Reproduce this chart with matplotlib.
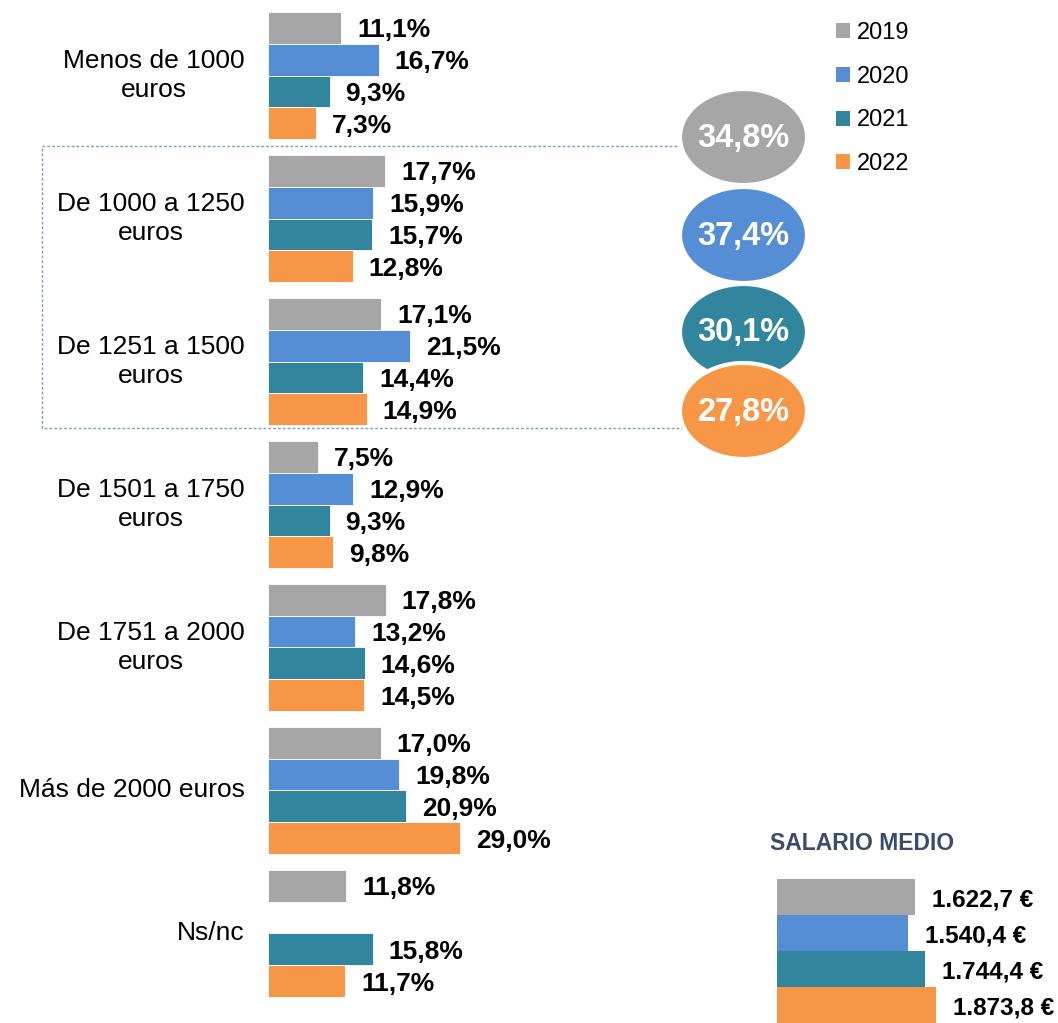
import matplotlib.pyplot as plt
from matplotlib.patches import Patch, Ellipse, Rectangle

plt.rcParams['font.family'] = ['Liberation Sans', 'DejaVu Sans']

# Data
categories = ["Menos de 1000\neuros", "De 1000 a 1250\neuros", "De 1251 a 1500\neuros",
              "De 1501 a 1750\neuros", "De 1751 a 2000\neuros", "Más de 2000 euros", "Ns/nc"]
years = ["2019", "2020", "2021", "2022"]
v2019 = [11.1, 17.7, 17.1, 7.5, 17.8, 17.0, 11.8]
v2020 = [16.7, 15.9, 21.5, 12.9, 13.2, 19.8, None]
v2021 = [9.3, 15.7, 14.4, 9.3, 14.6, 20.9, 15.8]
v2022 = [7.3, 12.8, 14.9, 9.8, 14.5, 29.0, 11.7]
grouped_1000_1500 = [34.8, 37.4, 30.1, 27.8]
salario_medio = [1622.7, 1540.4, 1744.4, 1873.8]

colors = ['#A6A6A6', '#558ED5', '#31859C', '#F79646']
W, H = 1058, 1023


def fmt(v, dec_sep=','):
    return f"{v:.1f}".replace('.', dec_sep)


fig = plt.figure(figsize=(W / 100, H / 100), dpi=100)

# main bar chart
ax = fig.add_axes([268 / W, 26 / H, 790 / W, 985 / H])
ax.set_xlim(0, 790 / 6.62)
ax.set_ylim(30.5, -0.5)
ax.axis('off')

series = [v2019, v2020, v2021, v2022]
for j, (vals, color) in enumerate(zip(series, colors)):
    for i, v in enumerate(vals):
        if v is None:
            continue
        y = i * 4.5 + j
        ax.barh(y, v, height=1.0, color=color, edgecolor='white', linewidth=0.6)
        ax.annotate(fmt(v) + '%', (v, y), xytext=(11.5, 0), textcoords='offset points',
                    ha='left', va='center_baseline', fontsize=19, fontweight='bold',
                    color='black')

for i, cat in enumerate(categories):
    ax.annotate(cat, (0, i * 4.5 + 1.5), xytext=(-17, 0), textcoords='offset points',
                ha='right', va='center', multialignment='center', fontsize=19,
                linespacing=1.3, annotation_clip=False)

# overlay in pixel units for the grouped bubbles
ov = fig.add_axes([0, 0, 1, 1], zorder=5)
ov.set_xlim(0, W)
ov.set_ylim(H, 0)
ov.axis('off')
ov.patch.set_alpha(0)

ov.add_patch(Rectangle((42, 146), 700, 282, fill=False, edgecolor='#7F9BC4',
                       linewidth=1.0, linestyle=(0, (2, 1.5))))
bubble_y = [137, 235, 332, 411]
for val, yc, color in zip(grouped_1000_1500, bubble_y, colors):
    ov.add_patch(Ellipse((743.5, yc), 127, 96, facecolor=color, edgecolor='white', linewidth=3))
    ov.text(743.5, yc + 1, fmt(val) + '%', ha='center', va='center', fontsize=23.5,
            fontweight='bold', color='white')

# legend
handles = [Patch(facecolor=c, edgecolor='none') for c in colors]
fig.legend(handles, years, loc='upper left', bbox_to_anchor=(836 / W, 1 - 22 / H),
           frameon=False, fontsize=17, handlelength=0.6, handleheight=0.6,
           handletextpad=0.3, labelspacing=0.92, borderpad=0, borderaxespad=0)

# salario medio inset
ax2 = fig.add_axes([777 / W, 0, 281 / W, 144 / H])
ax2.set_xlim(0, 281 / 0.085)
ax2.set_ylim(3.5, -0.5)
ax2.axis('off')
for j, (v, color) in enumerate(zip(salario_medio, colors)):
    ax2.barh(j, v, height=1.0, color=color)
    s = f"{v:,.1f}".replace(',', 'X').replace('.', ',').replace('X', '.')
    ax2.annotate(s + ' €', (v, j), xytext=(12, 0), textcoords='offset points',
                 ha='left', va='center_baseline', fontsize=17.5, fontweight='bold',
                 color='black', annotation_clip=False)
ax2.annotate('SALARIO MEDIO', (0, -0.5), xytext=(-5, 17), textcoords='offset points',
             ha='left', va='bottom', fontsize=16.5, fontweight='bold', color='#3B4B6B',
             annotation_clip=False)

fig.savefig('out.png', dpi=100)
